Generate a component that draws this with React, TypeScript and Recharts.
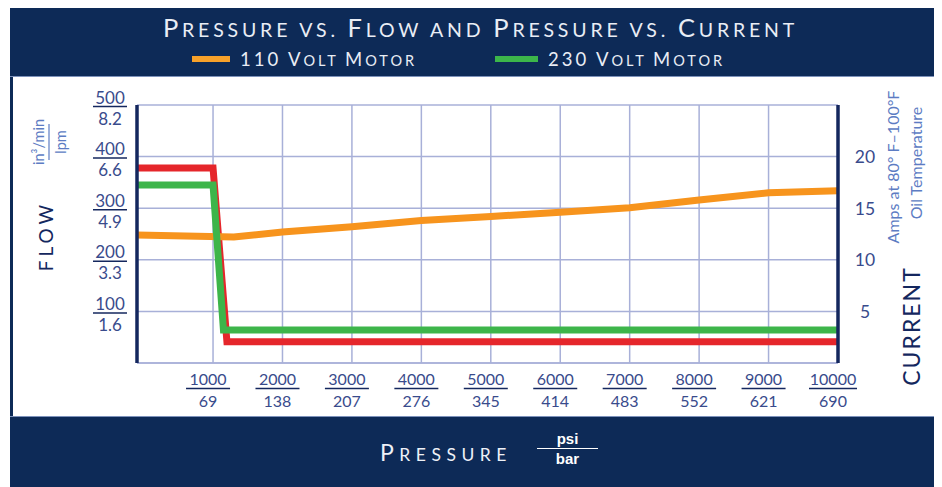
import React from 'react';
import { LineChart, Line, XAxis, YAxis, CartesianGrid } from 'recharts';

const NAVY = '#0d2a57';
const AXIS_NAVY = '#14275e';
const GRID = '#a8b0d8';
const TICK = '#394b8c';
const UNIT = '#5d7cc3';

// pressure ticks (psi over bar)
const psiTicks = [1000, 2000, 3000, 4000, 5000, 6000, 7000, 8000, 9000, 10000];
const barTicks = [69, 138, 207, 276, 345, 414, 483, 552, 621, 690];
// flow ticks (in³/min over lpm)
const flowTicks = [0, 100, 200, 300, 400, 500];
const lpmTicks = ['', '1.6', '3.3', '4.9', '6.6', '8.2'];
// current ticks (amps)
const ampTicks = [0, 5, 10, 15, 20, 25];

// flow series, red (no legend entry) and green 230 V
const redPsi = [-95, 1000, 1200, 10000];
const redFlow = [378, 378, 41, 41];
const greenPsi = [-95, 1000, 1150, 10000];
const greenFlow = [345, 345, 64, 64];
// current series, orange 110 V
const orangePsi = [-95, 1300, 2000, 3000, 4000, 5000, 6000, 7000, 8000, 9000, 10000];
const orangeAmps = [12.4, 12.2, 12.7, 13.2, 13.8, 14.2, 14.6, 15.05, 15.8, 16.5, 16.7];

const redData = redPsi.map((p, i) => ({ psi: p, flow: redFlow[i] }));
const greenData = greenPsi.map((p, i) => ({ psi: p, flow: greenFlow[i] }));
const orangeData = orangePsi.map((p, i) => ({ psi: p, amps: orangeAmps[i] }));

const FONT = 'Lato, "DejaVu Sans", sans-serif';

// fake small caps: capitals and digits big, the rest upper-cased small
const SC = ({ text, big, small }: { text: string; big: number; small: number }) => (
  <>
    {text.split('').map((ch, i) => {
      const isBig = ch !== ch.toLowerCase() || /[0-9]/.test(ch);
      return (
        <span key={i} style={{ fontSize: isBig ? big : small }}>
          {ch.toUpperCase()}
        </span>
      );
    })}
  </>
);

const PsiTick = (props: any) => {
  const { x, y, payload } = props;
  const i = psiTicks.indexOf(payload.value);
  const cx = x - 5;
  const half = payload.value >= 10000 ? 24 : 22;
  return (
    <g fontFamily={FONT} fontSize={16} fill={TICK}>
      <text x={cx} y={y + 15} textAnchor="middle" dominantBaseline="central">{payload.value}</text>
      <line x1={cx - half} x2={cx + half} y1={y + 25.5} y2={y + 25.5} stroke={AXIS_NAVY} strokeWidth={1.5} />
      <text x={cx} y={y + 37} textAnchor="middle" dominantBaseline="central">{barTicks[i]}</text>
    </g>
  );
};

const FlowTick = (props: any) => {
  const { y, payload } = props;
  if (payload.value === 0) return null;
  const i = flowTicks.indexOf(payload.value);
  const cx = 100;
  return (
    <g fontFamily={FONT} fontSize={17} fill={TICK}>
      <text x={cx} y={y - 8} textAnchor="middle" dominantBaseline="central">{payload.value}</text>
      <line x1={cx - 17} x2={cx + 17} y1={y + 1.5} y2={y + 1.5} stroke={AXIS_NAVY} strokeWidth={1.5} />
      <text x={cx} y={y + 13} textAnchor="middle" dominantBaseline="central">{lpmTicks[i]}</text>
    </g>
  );
};

const AmpTick = (props: any) => {
  const { y, payload } = props;
  if (payload.value === 0 || payload.value === 25) return null;
  return (
    <text x={855} y={y} textAnchor="middle" dominantBaseline="central" fontFamily={FONT} fontSize={17.5} fill={TICK}>
      {payload.value}
    </text>
  );
};

export default function App() {
  return (
    <div style={{ position: 'relative', width: 932, height: 479, marginLeft: 2, fontFamily: FONT, background: '#fff' }}>
      {/* header band */}
      <div style={{ position: 'absolute', left: 0, top: 0, width: 932, height: 68, background: NAVY, borderBottom: '1px solid #7d92bb' }} />
      <div style={{ position: 'absolute', left: 9, right: 0, top: 6, textAlign: 'center', color: '#e9edf5', letterSpacing: 3.8, lineHeight: '26px', whiteSpace: 'nowrap' }}>
        <SC text="Pressure vs. Flow and Pressure vs. Current" big={25.5} small={19.5} />
      </div>
      <div style={{ position: 'absolute', left: 182, top: 48, width: 38, height: 6, background: '#f7a12a' }} />
      <div style={{ position: 'absolute', left: 230, top: 41, color: '#e9edf5', letterSpacing: 3, lineHeight: '20px', whiteSpace: 'nowrap' }}>
        <SC text="110 Volt Motor" big={18.5} small={14.5} />
      </div>
      <div style={{ position: 'absolute', left: 485, top: 48, width: 43, height: 6, background: '#3cb64a' }} />
      <div style={{ position: 'absolute', left: 538, top: 41, color: '#e9edf5', letterSpacing: 3, lineHeight: '20px', whiteSpace: 'nowrap' }}>
        <SC text="230 Volt Motor" big={18.5} small={14.5} />
      </div>

      {/* left border of the white panel */}
      <div style={{ position: 'absolute', left: 0, top: 69, width: 3, height: 339, background: NAVY }} />

      {/* bottom band */}
      <div style={{ position: 'absolute', left: 0, top: 408, width: 932, height: 71, background: NAVY, borderTop: '1px solid #7d92bb' }} />
      <div style={{ position: 'absolute', left: 370, top: 432, color: '#eef1f7', letterSpacing: 5.5, lineHeight: '24px', whiteSpace: 'nowrap' }}>
        <SC text="Pressure" big={23} small={17.5} />
      </div>
      <div style={{ position: 'absolute', left: 527, top: 421, width: 61, color: '#fff', fontSize: 15, fontWeight: 700, textAlign: 'center', lineHeight: '19px', fontFamily: '"Liberation Sans Narrow", "Liberation Sans", sans-serif' }}>
        <div>psi</div>
        <div style={{ borderTop: '1.5px solid #fff', marginTop: 0 }}>bar</div>
      </div>

      {/* axis titles */}
      <svg width={932} height={479} style={{ position: 'absolute', left: 0, top: 0 }}>
        <g fontFamily={FONT}>
          <text x={35} y={228} transform="rotate(-90 35 228)" textAnchor="middle" dominantBaseline="central" fontSize={19} letterSpacing={4} fill={AXIS_NAVY}>FLOW</text>
          <text x={28} y={134} transform="rotate(-90 28 134)" textAnchor="middle" dominantBaseline="central" fontSize={14.5} fill={UNIT}>in³/min</text>
          <line x1={39} x2={39} y1={116} y2={152} stroke={UNIT} strokeWidth={1.2} />
          <text x={50} y={134} transform="rotate(-90 50 134)" textAnchor="middle" dominantBaseline="central" fontSize={14.5} fill={UNIT}>lpm</text>
          <text x={882} y={159} transform="rotate(-90 882 159)" textAnchor="middle" dominantBaseline="central" fontSize={16} fill={UNIT}>Amps at 80° F–100°F</text>
          <text x={905} y={155} transform="rotate(-90 905 155)" textAnchor="middle" dominantBaseline="central" fontSize={16} fill={UNIT}>Oil Temperature</text>
          <text x={901} y={318} transform="rotate(-90 901 318)" textAnchor="middle" dominantBaseline="central" fontSize={23} letterSpacing={2} fill={AXIS_NAVY}>CURRENT</text>
        </g>
      </svg>

      <div style={{ position: 'absolute', left: 0, top: 0 }}>
        <LineChart width={932} height={479} margin={{ top: 97, left: 67, right: 64, bottom: 74 }}>
          <CartesianGrid yAxisId="left" stroke={GRID} strokeWidth={1.5} />
          <XAxis
            type="number"
            dataKey="psi"
            domain={[-95, 10000]}
            ticks={psiTicks}
            height={50}
            tickSize={0}
            tickMargin={0}
            tickLine={false}
            axisLine={{ stroke: GRID, strokeWidth: 1.5 }}
            tick={<PsiTick />}
            interval={0}
            allowDuplicatedCategory={false}
          />
          <YAxis
            yAxisId="left"
            type="number"
            domain={[0, 500]}
            ticks={flowTicks}
            width={60}
            tickSize={0}
            tickMargin={0}
            tickLine={false}
            axisLine={{ stroke: AXIS_NAVY, strokeWidth: 3.5 }}
            tick={<FlowTick />}
            interval={0}
          />
          <YAxis
            yAxisId="right"
            orientation="right"
            type="number"
            domain={[0, 25]}
            ticks={ampTicks}
            width={40}
            tickSize={0}
            tickMargin={0}
            tickLine={false}
            axisLine={{ stroke: AXIS_NAVY, strokeWidth: 3.5 }}
            tick={<AmpTick />}
            interval={0}
          />
          <Line yAxisId="left" data={redData} dataKey="flow" type="linear" stroke="#e5262b" strokeWidth={7} dot={false} isAnimationActive={false} />
          <Line yAxisId="right" data={orangeData} dataKey="amps" type="linear" stroke="#f7941d" strokeWidth={7} dot={false} isAnimationActive={false} />
          <Line yAxisId="left" data={greenData} dataKey="flow" type="linear" stroke="#3db54a" strokeWidth={7} dot={false} isAnimationActive={false} />
        </LineChart>
      </div>
    </div>
  );
}
